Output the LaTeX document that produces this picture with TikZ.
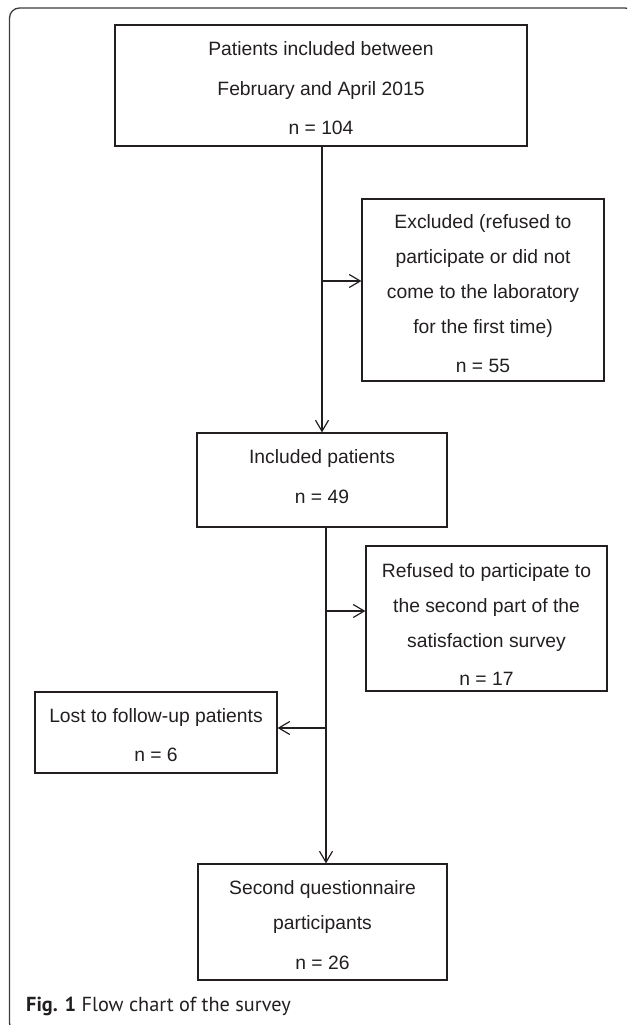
\documentclass[tikz,border=0pt]{standalone}
\usepackage{fontspec}
\setmainfont{Liberation Sans}
\newfontfamily\capfont{PT Sans}
\usetikzlibrary{arrows.meta}
\definecolor{ink}{RGB}{35,31,32}
\definecolor{framecol}{RGB}{60,60,60}
\begin{document}
\begin{tikzpicture}[x=1pt,y=-1pt,
  box/.style={draw=ink,line width=1.2pt,rectangle,inner sep=0pt},
  txt/.style={text=ink,align=center,inner sep=0pt,font=\fontsize{19.3}{35}\selectfont},
  arr/.style={draw=ink,line width=1.2pt,-{Straight Barb[length=11pt,width=13pt]}},
  captxt/.style={text=ink,anchor=west,inner sep=0pt,font=\capfont\fontsize{20.3}{22}\selectfont}]
\clip (0,0) rectangle (627,1025);
\draw[framecol,line width=1.3pt,rounded corners=10pt] (9.5,8) rectangle (635,1033);

\node[box,minimum width=412pt,minimum height=121pt] (b1) at (321,85.5) {};
\node[txt] (b1t) at (321,88.5) {Patients included between\\[5pt]February and April 2015\\[4pt]n = 104};

\node[box,minimum width=242pt,minimum height=182pt] (ex) at (483,290) {};
\node[txt] (ext) at (483,294) {Excluded (refused to\\participate or did not\\come to the laboratory\\for the first time)\\[4pt]n = 55};

\node[box,minimum width=250pt,minimum height=94pt] (in) at (322,480) {};
\node[txt] (int) at (322,477) {Included patients\\[5pt]n = 49};

\node[box,minimum width=241pt,minimum height=145pt] (rf) at (486.5,618.5) {};
\node[txt] (rft) at (486.5,624) {Refused to participate to\\the second part of the\\satisfaction survey\\[3pt]n = 17};

\node[box,minimum width=242pt,minimum height=81pt] (lo) at (156,732.5) {};
\node[txt] (lot) at (156,735.5) {Lost to follow-up patients\\[4pt]n = 6};

\node[box,minimum width=249pt,minimum height=116pt] (b5) at (322.5,922) {};
\node[txt] (b5t) at (322.5,925.5) {Second questionnaire\\participants\\[5pt]n = 26};

\node[captxt] (caption) at (26,1006) {\textbf{Fig. 1} Flow chart of the survey};

% connectors
\draw[arr] (in.north |- b1.south) -- (in.north);
\coordinate (j1) at (322,281);
\draw[arr] (j1) -- (j1 -| ex.west);
\coordinate (s2) at ([xshift=4pt]in.south);
\draw[arr] (s2) -- (s2 |- b5.north);
\coordinate (j2) at (326,611);
\draw[arr] (j2) -- (j2 -| rf.west);
\coordinate (j3) at (326,728);
\draw[arr] (j3) -- (j3 -| lo.east);
\end{tikzpicture}
\end{document}
